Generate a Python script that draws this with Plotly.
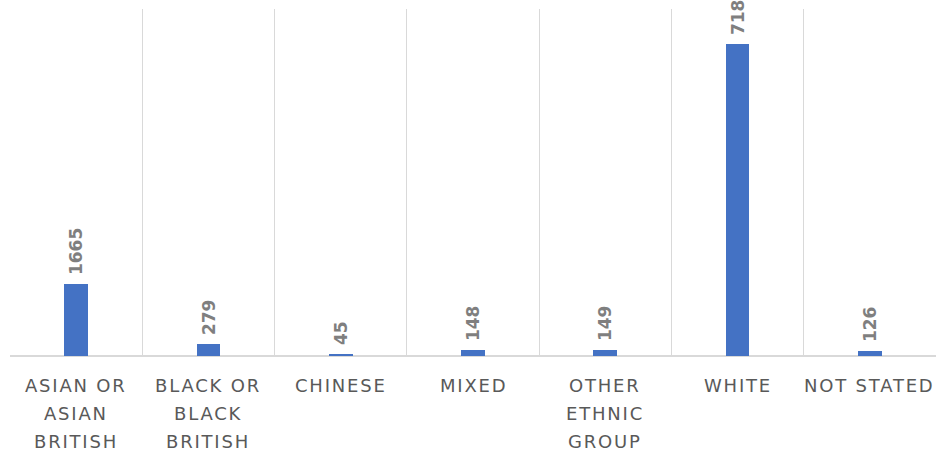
import plotly.graph_objects as go

# Ethnic group breakdown
categories = [
    "ASIAN OR<br>ASIAN<br>BRITISH",
    "BLACK OR<br>BLACK<br>BRITISH",
    "CHINESE",
    "MIXED",
    "OTHER<br>ETHNIC<br>GROUP",
    "WHITE",
    "NOT STATED",
]
counts = [1665, 279, 45, 148, 149, 7185, 126]

BAR_COLOR = "#4472C4"
GRID_COLOR = "#D9D9D9"
TEXT_COLOR = "#595959"
LABEL_COLOR = "#7F7F7F"

x_pos = list(range(len(categories)))

fig = go.Figure(
    go.Bar(
        x=x_pos,
        y=counts,
        width=0.18,
        marker=dict(color=BAR_COLOR, line=dict(width=0)),
        # leading no-break space keeps the rotated label clear of the bar top
        text=["\u00a0" + str(v) for v in counts],
        textposition="outside",
        textangle=-90,
        constraintext="none",
        cliponaxis=False,
        textfont=dict(family="DejaVu Sans", size=17, color=LABEL_COLOR, weight="bold"),
        hoverinfo="skip",
    )
)

# Multi-line category captions below the baseline
annotations = []
for i, cat in enumerate(categories):
    for j, line in enumerate(cat.split("<br>")):
        annotations.append(
            dict(
                x=i,
                y=0,
                xref="x",
                yref="paper",
                text=f'<span style="letter-spacing:1.8px">{line}</span>',
                showarrow=False,
                xanchor="center",
                yanchor="middle",
                yshift=-29 - 28 * j,
                font=dict(family="DejaVu Sans", size=18, color=TEXT_COLOR),
            )
        )

fig.update_layout(
    width=938,
    height=457,
    margin=dict(l=10, r=2, t=9, b=101),
    paper_bgcolor="white",
    plot_bgcolor="white",
    showlegend=False,
    bargap=0,
    annotations=annotations,
    xaxis=dict(
        range=[-0.5, len(categories) - 0.5],
        showticklabels=False,
        showgrid=False,
        zeroline=False,
        ticks="",
        minor=dict(
            tickmode="array",
            tickvals=[k - 0.5 for k in range(len(categories) + 1)],
            showgrid=True,
            gridcolor=GRID_COLOR,
            gridwidth=1,
            ticks="",
        ),
        showline=False,
    ),
    yaxis=dict(
        range=[0, 8000],
        showticklabels=False,
        showgrid=False,
        zeroline=True,
        zerolinecolor=GRID_COLOR,
        zerolinewidth=1.5,
        ticks="",
    ),
)

fig.write_html("out.html")
